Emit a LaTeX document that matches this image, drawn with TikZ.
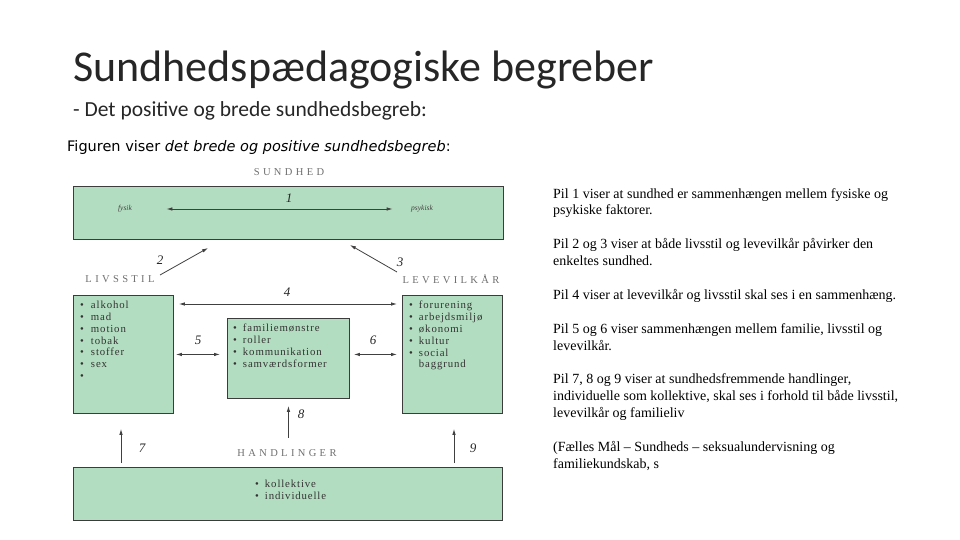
\documentclass[tikz,border=0pt]{standalone}
\usepackage{fontspec}
\setmainfont{Liberation Serif}
\newfontfamily\titlefont{Carlito}
\newfontfamily\figsans{DejaVu Sans}
\newfontfamily\capsfont[LetterSpace=32]{Liberation Serif}
\newfontfamily\listfont[LetterSpace=8]{Liberation Serif}
\usetikzlibrary{arrows.meta,positioning,calc}
\definecolor{boxgreen}{HTML}{B3DDC0}
\definecolor{boxline}{HTML}{3C3C3C}
\definecolor{headgray}{HTML}{6E6E6E}

\begin{document}
\begin{tikzpicture}[x=1pt,y=-1pt,
  greenbox/.style={draw=boxline, fill=boxgreen, line width=0.9pt, inner sep=0pt, anchor=north west},
  headlbl/.style={font=\capsfont\fontsize{10.5}{10.5}\selectfont, color=headgray},
  numlbl/.style={font=\fontsize{13}{13}\selectfont\itshape, color=black!85},
  sidelbl/.style={font=\fontsize{7.5}{8}\selectfont\itshape, color=black!75},
  bullets/.style={font=\listfont\fontsize{10.8}{11.8}\selectfont, color=black!80, align=left, anchor=north west, inner sep=0pt},
  pil/.style={-{Latex[length=6pt,width=3.5pt]}, color=black!75, line width=0.8pt},
  dpil/.style={{Latex[length=6pt,width=3.5pt]}-{Latex[length=6pt,width=3.5pt]}, color=black!75, line width=0.8pt}
]
  \useasboundingbox (0,0) rectangle (960,540);
  % titles
  \node[anchor=base west, inner sep=0pt, font=\titlefont\fontsize{44}{44}\selectfont, color=black!85] (title) at (73,82) {Sundhedspædagogiske begreber};
  \node[anchor=base west, inner sep=0pt, font=\titlefont\fontsize{21.5}{21.5}\selectfont, color=black!85] (subtitle) at (73,117) {- Det positive og brede sundhedsbegreb:};
  \node[anchor=base west, inner sep=0pt, font=\figsans\fontsize{14.5}{15}\selectfont] (caption) at (67,152) {Figuren viser \textit{det brede og positive sundhedsbegreb}:};

  % boxes
  \node[headlbl] (sundhed) at (289,172) {SUNDHED};
  \node[greenbox, minimum width=430pt, minimum height=53pt] (sundbox) at (73,186) {};
  \node[sidelbl] (fysik) at (125,209) {fysik};
  \node[sidelbl] (psykisk) at (422,209) {psykisk};
  \node[headlbl] (livsstil) at (120,279) {LIVSSTIL};
  \node[headlbl] (levevilkaar) at (451,279) {LEVEVILKÅR};
  \node[greenbox, minimum width=100pt, minimum height=118pt] (lbox) at (73,295) {};
  \node[greenbox, minimum width=100pt, minimum height=118pt] (rbox) at (402,295) {};
  \node[greenbox, minimum width=122pt, minimum height=80pt] (mbox) at (227,318) {};
  \node[headlbl] (handl) at (287,453) {HANDLINGER};
  \node[greenbox, minimum width=429pt, minimum height=53pt] (hbox) at (73,467) {};

  % bullet lists
  \node[bullets] (lliste) at (80,301) {\textbullet\hspace{7pt}alkohol\\ \textbullet\hspace{7pt}mad\\ \textbullet\hspace{7pt}motion\\ \textbullet\hspace{7pt}tobak\\ \textbullet\hspace{7pt}stoffer\\ \textbullet\hspace{7pt}sex\\ \textbullet};
  \node[bullets] (mliste) at (233,324) {\textbullet\hspace{6pt}familiemønstre\\ \textbullet\hspace{6pt}roller\\ \textbullet\hspace{6pt}kommunikation\\ \textbullet\hspace{6pt}samværdsformer};
  \node[bullets] (rliste) at (409,301) {\textbullet\hspace{6pt}forurening\\ \textbullet\hspace{6pt}arbejdsmiljø\\ \textbullet\hspace{6pt}økonomi\\ \textbullet\hspace{6pt}kultur\\ \textbullet\hspace{6pt}social\\ \phantom{\textbullet}\hspace{6pt}baggrund};
  \node[bullets] (hliste) at (255,480) {\textbullet\hspace{6pt}kollektive\\ \textbullet\hspace{6pt}individuelle};

  % arrows
  \draw[dpil, shorten <=31pt, shorten >=15pt] (fysik.east) -- (psykisk.west);
  \node[numlbl] (n1) at (289,198) {1};
  \coordinate (p2a) at (160,275); \coordinate (p2b) at (208,248);
  \draw[pil] (p2a) -- (p2b);
  \node[numlbl] (n2) at (160,260) {2};
  \coordinate (p3a) at (397,272); \coordinate (p3b) at (350,245);
  \draw[pil] (p3a) -- (p3b);
  \node[numlbl] (n3) at (400,262) {3};
  \draw[dpil, shorten <=5pt, shorten >=5pt] ([yshift=-9pt]lbox.north east) -- ([yshift=-9pt]rbox.north west);
  \node[numlbl] (n4) at (287,292) {4};
  \draw[dpil, shorten <=2pt, shorten >=7pt] (lbox.east) -- (lbox.east -| mbox.west);
  \node[numlbl] (n5) at (198,340) {5};
  \draw[dpil, shorten <=4pt, shorten >=5pt] (mbox.east |- rbox.west) -- (rbox.west);
  \node[numlbl] (n6) at (373,340) {6};
  \draw[pil, shorten <=4pt, shorten >=15pt] ([xshift=48pt]hbox.north west) -- ([xshift=48pt]lbox.south west);
  \node[numlbl] (n7) at (142,448) {7};
  \draw[pil, shorten >=7pt] ($(mbox.south)+(0,39)$) -- (mbox.south);
  \node[numlbl] (n8) at (301,414) {8};
  \draw[pil, shorten <=4pt, shorten >=15pt] ([xshift=52pt]hbox.north west -| rbox.south west) -- ([xshift=52pt]rbox.south west);
  \node[numlbl] (n9) at (473,448) {9};

  % text column
  \node[anchor=north west, inner sep=0pt, align=left, font=\fontsize{14}{16.9}\selectfont] (forklaring) at (553,188) {%
    Pil 1 viser at sundhed er sammenhængen mellem fysiske og\\ psykiske faktorer.\\[16.9pt]
    Pil 2 og 3 viser at både livsstil og levevilkår påvirker den\\ enkeltes sundhed.\\[16.9pt]
    Pil 4 viser at levevilkår og livsstil skal ses i en sammenhæng.\\[16.9pt]
    Pil 5 og 6 viser sammenhængen mellem familie, livsstil og\\ levevilkår.\\[16.9pt]
    Pil 7, 8 og 9 viser at sundhedsfremmende handlinger,\\ individuelle som kollektive, skal ses i forhold til både livsstil,\\ levevilkår og familieliv\\[16.9pt]
    (Fælles Mål -- Sundheds -- seksualundervisning og\\ familiekundskab, s};
\end{tikzpicture}
\end{document}
